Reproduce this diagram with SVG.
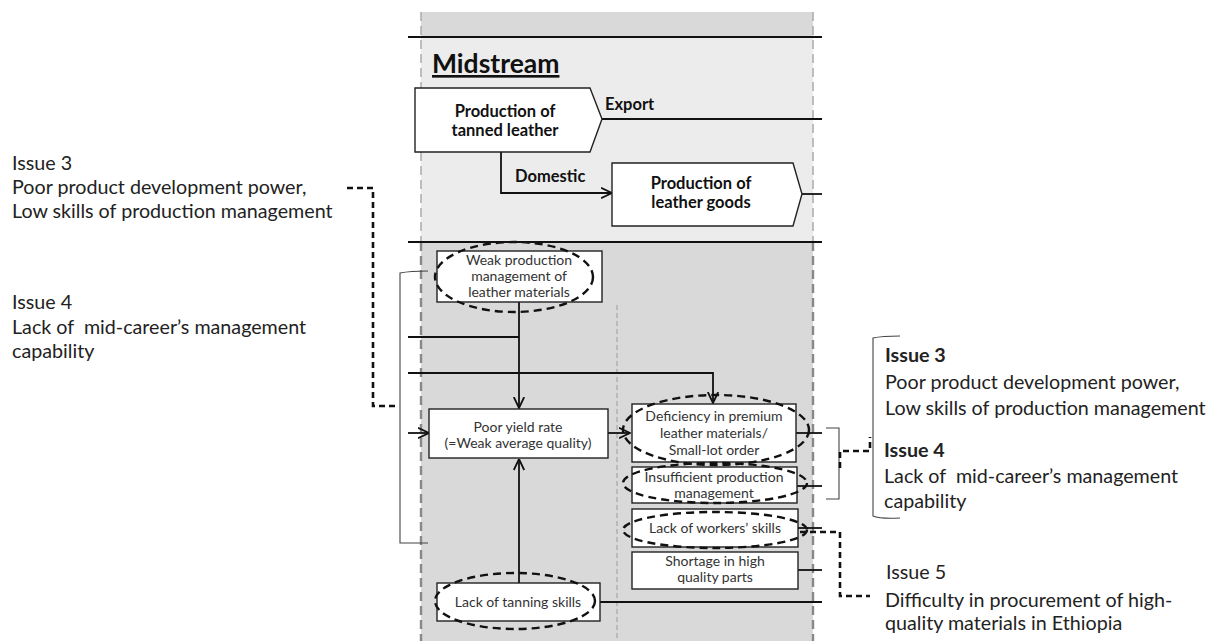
<svg xmlns="http://www.w3.org/2000/svg" width="1215" height="641" viewBox="0 0 1215 641">
  <style>
    .ln { stroke:#111; stroke-width:1.8; fill:none; }
    .thin { stroke:#444; stroke-width:1.1; fill:none; }
    .dash { stroke:#111; stroke-width:2.6; fill:none; stroke-dasharray:6 4; }
    .box { fill:#fff; stroke:#222; stroke-width:1.4; }
    .ell { fill:none; stroke:#111; stroke-width:2.4; stroke-dasharray:8 5; }
    .t { font-family:Lato, "Open Sans", sans-serif; }
    .hdr { font-family:Lato, "Open Sans", sans-serif; font-weight:bold; font-size:16.5px; fill:#111; }
    .lbl { font-family:Lato, "Open Sans", sans-serif; font-size:14px; fill:#333; text-anchor:middle; }
    .iss { font-family:Lato, "Open Sans", sans-serif; font-size:19.7px; fill:#222; }
    .issb { font-weight:bold; }
  </style>
  <defs>
    <marker id="arr" viewBox="0 0 12 12" refX="11.5" refY="6" markerWidth="12" markerHeight="12" markerUnits="userSpaceOnUse" orient="auto">
      <path d="M0.5,0.8 L11.5,6 L0.5,11.2" fill="none" stroke="#111" stroke-width="1.8"/>
    </marker>
  </defs>

  <rect width="1215" height="641" fill="#fff"/>

  <!-- midstream band -->
  <g id="band">
    <rect x="421" y="12" width="392" height="25" fill="#d9d9d9"/>
    <rect x="421" y="37" width="392" height="205" fill="#ececec"/>
    <rect x="421" y="242" width="392" height="399" fill="#d9d9d9"/>
    <line x1="421" y1="12" x2="421" y2="242" stroke="#aaa" stroke-width="1.5" stroke-dasharray="9 5"/>
    <line x1="813" y1="12" x2="813" y2="242" stroke="#aaa" stroke-width="1.5" stroke-dasharray="9 5"/>
    <line x1="421" y1="242" x2="421" y2="641" stroke="#888" stroke-width="2.4" stroke-dasharray="9 5"/>
    <line x1="813" y1="242" x2="813" y2="641" stroke="#888" stroke-width="2.4" stroke-dasharray="9 5"/>
    <line x1="617" y1="305" x2="617" y2="641" stroke="#999" stroke-width="1" stroke-dasharray="5 3"/>
    <line x1="408" y1="37" x2="822" y2="37" class="ln"/>
    <line x1="408" y1="242" x2="822" y2="242" class="ln"/>
    <text x="432" y="73" class="t" font-size="26.5" font-weight="bold" fill="#111" text-decoration="underline">Midstream</text>
  </g>

  <!-- connectors -->
  <g id="connectors">
    <line x1="602" y1="119" x2="822" y2="119" class="ln"/>
    <text x="605" y="110" class="hdr">Export</text>
    <path d="M501,152 V193 H612" class="ln" marker-end="url(#arr)"/>
    <text x="515" y="182" class="hdr">Domestic</text>
    <line x1="802" y1="194" x2="822" y2="194" class="ln"/>

    <path d="M519,302 V408" class="ln" marker-end="url(#arr)"/>
    <path d="M408,337 H519" class="ln"/>
    <path d="M408,373 H713 V403" class="ln" marker-end="url(#arr)"/>
    <path d="M408,433 H429" class="ln" marker-end="url(#arr)"/>
    <path d="M608,433 H630" class="ln" marker-end="url(#arr)"/>
    <path d="M519,583 V459" class="ln" marker-end="url(#arr)"/>

    <line x1="796" y1="433" x2="822" y2="433" class="ln"/>
    <line x1="797" y1="486" x2="822" y2="486" class="ln"/>
    <line x1="798" y1="528" x2="822" y2="528" class="ln"/>
    <line x1="798" y1="570" x2="822" y2="570" class="ln"/>
    <line x1="600" y1="602" x2="822" y2="602" class="ln"/>

    <!-- brackets -->
    <path d="M428,271 Q410,271 400,273 V543 H428" class="thin"/>
    <path d="M826,428 H839 V499 H826" class="thin"/>
    <path d="M900,336 Q882,336 873,338 V516 Q880,519 900,518" class="thin"/>

    <!-- dashed issue links -->
    <path d="M347,188 H373 V406 H397" class="dash"/>
    <path d="M840,468 V451 H870 V437" class="dash"/>
    <path d="M800,532 H840 V596 H870" class="dash"/>
  </g>

  <g id="tanned-leather">
    <polygon points="415,88 590,88 602,119 590,152 415,152" class="box"/>
    <text x="505" y="116.5" class="hdr" text-anchor="middle">Production of</text>
    <text x="505" y="135.5" class="hdr" text-anchor="middle">tanned leather</text>
  </g>

  <g id="leather-goods">
    <polygon points="612,163 793,163 802,194 793,226 612,226" class="box"/>
    <text x="701" y="189" class="hdr" text-anchor="middle">Production of</text>
    <text x="701" y="208" class="hdr" text-anchor="middle">leather goods</text>
  </g>

  <g id="weak-production">
    <rect x="437" y="251" width="165" height="51" class="box"/>
    <text x="519" y="265" class="lbl">Weak production</text>
    <text x="519" y="281" class="lbl">management of</text>
    <text x="519" y="297" class="lbl">leather materials</text>
    <ellipse cx="514" cy="277" rx="79" ry="35" class="ell"/>
  </g>

  <g id="poor-yield">
    <rect x="429" y="409" width="179" height="49" class="box"/>
    <text x="518" y="432" class="lbl">Poor yield rate</text>
    <text x="518" y="448" class="lbl">(=Weak average quality)</text>
  </g>

  <g id="deficiency">
    <rect x="632" y="404" width="164" height="58" class="box"/>
    <text x="714" y="421" class="lbl">Deficiency in premium</text>
    <text x="714" y="438" class="lbl">leather materials/</text>
    <text x="714" y="455" class="lbl">Small-lot order</text>
    <ellipse cx="716" cy="430" rx="93" ry="35" class="ell"/>
  </g>

  <g id="insufficient">
    <rect x="632" y="467" width="165" height="36" class="box"/>
    <text x="714" y="482" class="lbl">Insufficient production</text>
    <text x="714" y="498" class="lbl">management</text>
    <ellipse cx="715" cy="483" rx="92" ry="20" class="ell"/>
  </g>

  <g id="workers">
    <rect x="632" y="509" width="166" height="38" class="box"/>
    <text x="715" y="533" class="lbl">Lack of workers’ skills</text>
    <ellipse cx="715" cy="530" rx="92" ry="18" class="ell"/>
  </g>

  <g id="shortage">
    <rect x="632" y="552" width="166" height="37" class="box"/>
    <text x="715" y="566" class="lbl">Shortage in high</text>
    <text x="715" y="582" class="lbl">quality parts</text>
  </g>

  <g id="tanning">
    <rect x="437" y="583" width="163" height="38" class="box"/>
    <text x="518" y="607" class="lbl">Lack of tanning skills</text>
    <ellipse cx="515" cy="601" rx="80" ry="28" class="ell"/>
  </g>

  <g id="issues-left">
    <text x="12" y="170" class="iss">Issue 3</text>
    <text x="12" y="194" class="iss">Poor product development power,</text>
    <text x="12" y="218" class="iss">Low skills of production management</text>
    <text x="12" y="309" class="iss">Issue 4</text>
    <text x="12" y="334" class="iss">Lack of&#160; mid-career’s management</text>
    <text x="12" y="358" class="iss">capability</text>
  </g>

  <g id="issues-right">
    <text x="885" y="362" class="iss issb">Issue 3</text>
    <text x="885" y="389" class="iss">Poor product development power,</text>
    <text x="885" y="415" class="iss">Low skills of production management</text>
    <text x="884" y="457" class="iss issb">Issue 4</text>
    <text x="884" y="483" class="iss">Lack of&#160; mid-career’s management</text>
    <text x="884" y="508" class="iss">capability</text>
  </g>

  <g id="issue-5">
    <text x="886" y="579" class="iss">Issue 5</text>
    <text x="885" y="607" class="iss">Difficulty in procurement of high-</text>
    <text x="885" y="630" class="iss">quality materials in Ethiopia</text>
  </g>
</svg>
